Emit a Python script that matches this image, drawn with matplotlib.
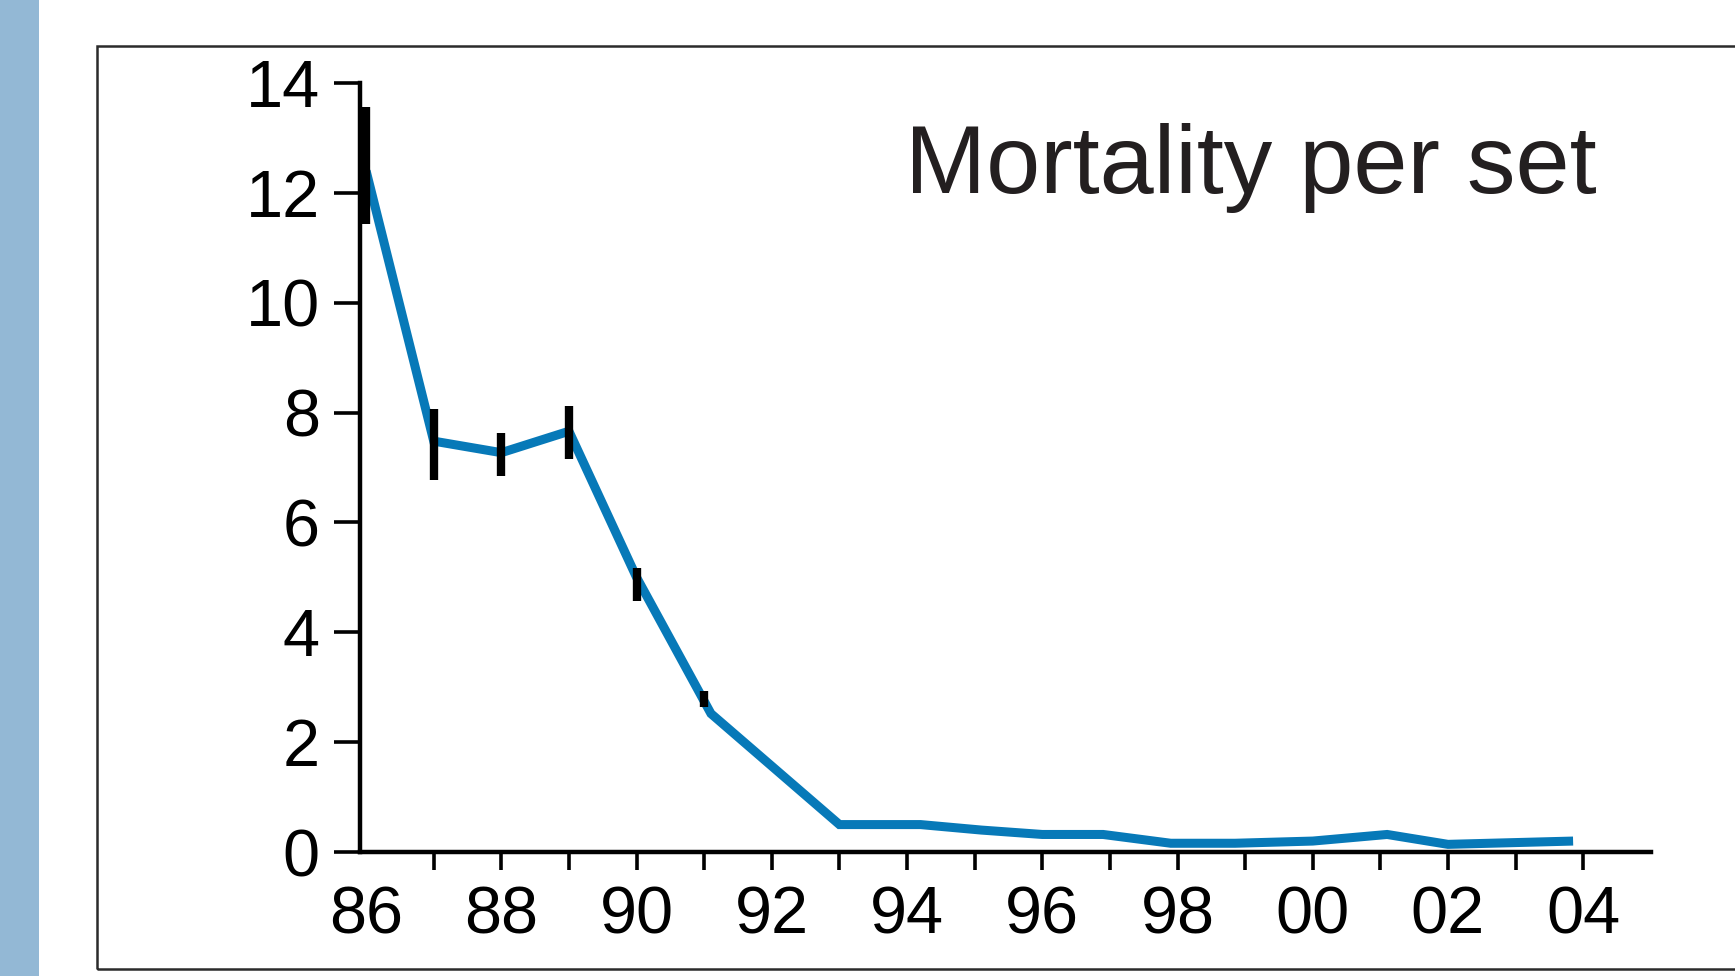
import matplotlib
matplotlib.use("Agg")
import matplotlib.pyplot as plt
from matplotlib.patches import Rectangle

plt.rcParams['font.family'] = ['Liberation Sans', 'DejaVu Sans']

# data (years as 86..104, 100 = 2000)
years = [86, 87, 88, 89, 90, 91.1, 93, 94.2, 95.1, 96, 96.9, 97.9, 98.85,
         100, 101.1, 102, 103.85]
mortality = [12.4, 7.48, 7.27, 7.66, 5.0, 2.52, 0.5, 0.5, 0.4, 0.32, 0.32,
             0.16, 0.16, 0.2, 0.32, 0.14, 0.2]

# error bars (low / high ends)
err_years = [86, 87, 88, 89, 90, 91]
err_low = [11.44, 6.78, 6.85, 7.16, 4.57, 2.64]
err_high = [13.56, 8.06, 7.63, 8.12, 5.17, 2.94]

tick_years = list(range(86, 105))
tick_text = ['%02d' % (y % 100) if y % 2 == 0 else '' for y in tick_years]
y_ticks = [0, 2, 4, 6, 8, 10, 12, 14]

fig = plt.figure(figsize=(17.35, 9.76), dpi=100)

# blue strip on the left and the panel frame
fig.patches.append(Rectangle((0, 0), 0.0225, 1, transform=fig.transFigure,
                             facecolor='#93b8d5', edgecolor='none', zorder=0))
fig.patches.append(Rectangle((0.056, 0.007), 1.0, 0.946, transform=fig.transFigure,
                             facecolor='none', edgecolor='#2b2b2b', linewidth=1.8,
                             zorder=1))

ax = fig.add_axes([0.2075, 0.127, 0.744, 0.788])

ax.plot(years, mortality, color='#0779b8', linewidth=6.5, zorder=2,
        solid_joinstyle='miter', solid_capstyle='butt')
ax.vlines(err_years, err_low, err_high, color='black', linewidth=6.0, zorder=3)

ax.set_xlim(85.91, 105.0)
ax.set_ylim(0, 14)

ax.spines['top'].set_visible(False)
ax.spines['right'].set_visible(False)
for s in ['left', 'bottom']:
    ax.spines[s].set_linewidth(3.2)

ax.set_xticks(tick_years)
ax.set_xticklabels(tick_text)
ax.tick_params(axis='x', direction='out', length=13, width=2.6,
               labelsize=48, pad=11)
# first tick sits on the y axis, not drawn
ax.xaxis.get_major_ticks()[0].tick1line.set_visible(False)

ax.set_yticks(y_ticks)
ax.tick_params(axis='y', direction='out', length=19, width=2.6,
               labelsize=48, pad=10)

fig.text(0.5216, 0.802, 'Mortality per set', fontsize=70, color='#231f20',
         va='baseline', ha='left')

fig.savefig('out.png', dpi=100)
